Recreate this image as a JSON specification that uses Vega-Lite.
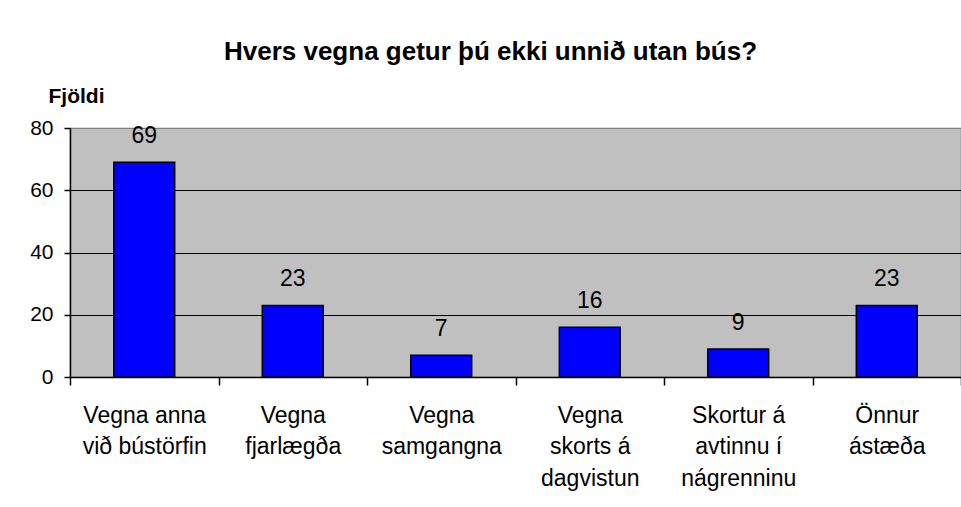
{
  "$schema": "https://vega.github.io/schema/vega-lite/v6.json",
  "width": 891,
  "height": 249,
  "autosize": {"type": "none"},
  "padding": {"left": 70, "top": 128, "right": 0, "bottom": 130},
  "background": "white",
  "title": {
    "text": "Hvers vegna getur þú ekki unnið utan bús?",
    "font": "Liberation Sans",
    "fontSize": 26,
    "fontWeight": "bold",
    "color": "black",
    "dx": -25,
    "offset": 20
  },
  "data": {
    "values": [
      {"category": "Vegna anna\nvið bústörfin", "value": 69},
      {"category": "Vegna\nfjarlægða", "value": 23},
      {"category": "Vegna\nsamgangna", "value": 7},
      {"category": "Vegna\nskorts á\ndagvistun", "value": 16},
      {"category": "Skortur á\navtinnu í\nnágrenninu", "value": 9},
      {"category": "Önnur\nástæða", "value": 23}
    ]
  },
  "encoding": {
    "x": {
      "field": "category",
      "type": "nominal",
      "sort": null,
      "scale": {"paddingInner": 0, "paddingOuter": 0},
      "axis": {
        "title": null,
        "tickBand": "extent",
        "labelAngle": 0,
        "labelExpr": "split(datum.label, '\\n')",
        "labelFont": "Liberation Sans",
        "labelFontSize": 23,
        "labelLineHeight": 31.5,
        "labelBaseline": "alphabetic",
        "labelPadding": 37,
        "labelColor": "black",
        "labelLimit": 0,
        "tickSize": 8,
        "tickColor": "black",
        "tickWidth": 1.5,
        "domainColor": "black",
        "domainWidth": 1.5,
        "grid": false
      }
    },
    "y": {
      "field": "value",
      "type": "quantitative",
      "scale": {"domain": [0, 80], "nice": false},
      "axis": {
        "title": "Fjöldi",
        "titleAngle": 0,
        "titleX": 6,
        "titleY": -26,
        "titleAlign": "center",
        "titleBaseline": "alphabetic",
        "titleFont": "Liberation Sans",
        "titleFontSize": 21,
        "titleFontWeight": "bold",
        "titleColor": "black",
        "values": [0, 20, 40, 60, 80],
        "labelFont": "Liberation Sans",
        "labelFontSize": 21,
        "labelColor": "black",
        "labelPadding": 11,
        "labelBaseline": "middle",
        "tickSize": 6,
        "tickColor": "black",
        "tickWidth": 1.5,
        "domainColor": "black",
        "domainWidth": 1.5,
        "grid": true,
        "gridColor": {"condition": {"test": "datum.value === 80", "value": "#808080"}, "value": "black"},
        "gridWidth": 1.2
      }
    }
  },
  "layer": [
    {
      "mark": {"type": "bar", "fill": "#0000FF", "stroke": "black", "strokeWidth": 1.5, "width": {"band": 0.41}}
    },
    {
      "mark": {"type": "text", "baseline": "alphabetic", "dy": -19, "font": "Liberation Sans", "fontSize": 23, "color": "black"},
      "encoding": {"text": {"field": "value", "type": "quantitative"}}
    }
  ],
  "config": {
    "view": {"fill": "#C0C0C0", "stroke": "#808080", "strokeWidth": 1.2}
  }
}
